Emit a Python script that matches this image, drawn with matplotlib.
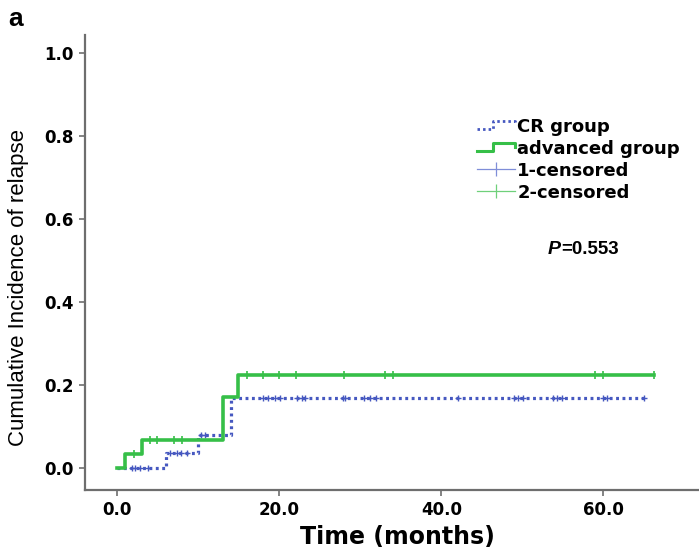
import numpy as np
import matplotlib
matplotlib.use("Agg")
import matplotlib.pyplot as plt
from matplotlib.lines import Line2D
from matplotlib.legend_handler import HandlerBase

# ---- data ----
cr_times = [0.0, 6.0, 10.0, 14.0]
cr_cum = [0.0, 0.037, 0.080, 0.169]
cr_end = 65.2
cr_cens = [1.8, 2.2, 2.8, 3.8, 6.5, 7.4, 7.8, 8.6, 10.3, 10.8,
           18.0, 18.6, 19.5, 20.1, 22.2, 22.8, 23.2, 27.8, 28.1, 30.4,
           31.2, 31.9, 42.0, 48.9, 49.4, 50.1, 53.8, 54.3, 54.9, 60.0,
           60.5, 65.0]

adv_times = [0.0, 0.9, 3.0, 13.0, 14.9]
adv_cum = [0.0, 0.033, 0.067, 0.172, 0.224]
adv_end = 66.3
adv_cens = [2.0, 4.0, 4.9, 7.0, 8.0, 16.0, 18.0, 20.0, 22.0, 28.0,
            33.0, 34.0, 59.0, 60.0, 66.3]

xticks = [0, 20, 40, 60]
xtick_labels = ["0.0", "20.0", "40.0", "60.0"]
yticks = [0.0, 0.2, 0.4, 0.6, 0.8, 1.0]
ytick_labels = ["0.0", "0.2", "0.4", "0.6", "0.8", "1.0"]
labels = ["CR group", "advanced group", "1-censored", "2-censored"]

BLUE = "#4658c0"
GREEN = "#36bf48"
GRAY = "#6e6e6e"
BOLDFONT = ["DejaVu Sans"]
ARIAL = ["Liberation Sans", "DejaVu Sans"]

plt.rcParams["font.family"] = ["DejaVu Sans"]

fig = plt.figure(figsize=(6.99, 5.55), dpi=100)
ax = fig.add_axes([85 / 699, 65 / 555, 614 / 699, 455 / 555])


def step_value(times, vals, t):
    idx = np.searchsorted(times, t, side="right") - 1
    return np.asarray(vals)[idx]


# CR group (dotted blue)
cx = list(cr_times) + [cr_end]
cy = list(cr_cum) + [cr_cum[-1]]
ax.step(cx, cy, where="post", color=BLUE, lw=2.3, linestyle=(0, (0.9, 1.1)),
        zorder=3)
ax.plot(cr_cens, step_value(cr_times, cr_cum, cr_cens), linestyle="none",
        marker="+", markersize=5, markeredgewidth=1.0, color=BLUE, zorder=4)

# advanced group (solid green)
ax_ = list(adv_times) + [adv_end]
ay = list(adv_cum) + [adv_cum[-1]]
ax.step(ax_, ay, where="post", color=GREEN, lw=2.6, zorder=5)
ax.plot(adv_cens, step_value(adv_times, adv_cum, adv_cens), linestyle="none",
        marker="|", markersize=6, markeredgewidth=1.2, color=GREEN, zorder=6)

ax.set_xlim(-4, 71.8)
ax.set_ylim(-0.053, 1.043)
ax.set_xticks(xticks)
ax.set_xticklabels(xtick_labels, fontsize=12, fontweight="bold",
                   family=BOLDFONT)
ax.set_yticks(yticks)
ax.set_yticklabels(ytick_labels, fontsize=12, fontweight="bold",
                   family=BOLDFONT)
for s in ["top", "right"]:
    ax.spines[s].set_visible(False)
for s in ["left", "bottom"]:
    ax.spines[s].set_color(GRAY)
    ax.spines[s].set_linewidth(1.6)
ax.tick_params(axis="both", direction="out", length=4, width=1.2, color=GRAY,
               pad=4)

ax.set_xlabel("Time (months)", fontsize=17, fontweight="bold",
              family=BOLDFONT)
ax.xaxis.set_label_coords((397 - 85) / 614, (490 - 537) / 455)
ax.xaxis.label.set_va("center")
ax.set_ylabel("Cumulative Incidence of relapse", fontsize=16,
              family=ARIAL)
ax.yaxis.set_label_coords((19 - 85) / 614, (490 - 287) / 455)
ax.yaxis.label.set_va("center")


class StepHandler(HandlerBase):
    def __init__(self, color, ls, lw):
        super().__init__()
        self.color, self.ls, self.lw = color, ls, lw

    def create_artists(self, legend, orig_handle, xdescent, ydescent, width,
                       height, fontsize, trans):
        x0 = -xdescent
        y0 = -ydescent
        xs = [x0, x0 + 0.42 * width, x0 + 0.42 * width, x0 + width,
              x0 + width]
        ys = [y0 + 0.2 * height, y0 + 0.2 * height, y0 + 0.85 * height,
              y0 + 0.85 * height, y0 + 0.5 * height]
        ln = Line2D(xs, ys, color=self.color, linestyle=self.ls, lw=self.lw,
                    transform=trans)
        return [ln]


h_cr = Line2D([], [], color=BLUE)
h_adv = Line2D([], [], color=GREEN)
h_c1 = Line2D([0], [0], color="#7f8ed8", lw=0.9, marker="|", markersize=10,
              markeredgewidth=0.9)
h_c2 = Line2D([0], [0], color="#6fd07a", lw=0.9, marker="|", markersize=10,
              markeredgewidth=0.9)
leg = ax.legend([h_cr, h_adv, h_c1, h_c2], labels,
                handler_map={h_cr: StepHandler(BLUE, (0, (0.9, 1.1)), 2.0),
                             h_adv: StepHandler(GREEN, "-", 2.2)},
                loc="upper left", bbox_to_anchor=(0.626, 0.834),
                frameon=False, handlelength=2.15, handletextpad=0.1,
                labelspacing=0.22, borderaxespad=0,
                prop={"size": 13, "weight": "bold", "family": BOLDFONT})

tp = ax.text((548 - 85) / 614, (490 - 249) / 455, "P",
             transform=ax.transAxes, fontsize=14,
             fontweight="bold", fontstyle="italic",
             family=ARIAL, ha="left", va="center")
ax.annotate("=0.553", xy=(1.0, 0.0), xycoords=tp, fontsize=13.5,
            fontweight="bold", family=ARIAL, ha="left", va="bottom")

fig.text(8 / 699, 1 - 19 / 555, "a", fontsize=19, fontweight="bold",
         family=ARIAL, ha="left", va="center")

fig.savefig("out.png", dpi=100)
